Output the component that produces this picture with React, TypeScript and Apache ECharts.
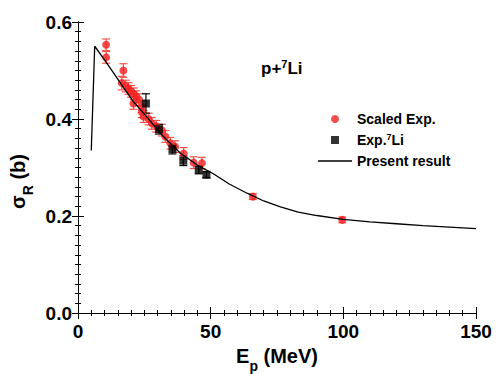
import React, { useEffect, useRef } from "react";
import * as echarts from "echarts";

const scaledE = [10.6, 10.6, 17.1, 16.5, 18.0, 19.0, 20.0, 21.0, 22.0, 20.9, 23.0, 24.0, 24.0, 24.7, 26.6, 27.8, 29.5, 31.6, 32.9, 34.8, 36.6, 39.8, 43.6, 46.7, 65.9, 99.6];
const scaledSigma = [0.553, 0.527, 0.500, 0.474, 0.468, 0.463, 0.457, 0.452, 0.446, 0.432, 0.440, 0.425, 0.415, 0.405, 0.400, 0.391, 0.385, 0.377, 0.364, 0.350, 0.343, 0.329, 0.310, 0.309, 0.240, 0.192];
const scaledErr = [0.012, 0.012, 0.014, 0.014, 0.012, 0.012, 0.012, 0.012, 0.012, 0.012, 0.012, 0.012, 0.012, 0.012, 0.012, 0.012, 0.012, 0.012, 0.012, 0.012, 0.012, 0.012, 0.012, 0.012, 0.006, 0.006];

const expE = [25.6, 30.5, 35.6, 39.7, 45.5, 48.4];
const expSigma = [0.432, 0.379, 0.338, 0.314, 0.295, 0.285];
const expErr = [0.020, 0.010, 0.010, 0.010, 0.008, 0.006];

const curveE = [5, 6.3, 10, 13, 17, 21, 26, 32, 38.5, 45, 51, 57, 63.7, 70, 76.3, 83, 90, 100, 110, 120, 130, 140, 150];
const curveSigma = [0.335, 0.550, 0.522, 0.498, 0.466, 0.435, 0.404, 0.365, 0.330, 0.305, 0.287, 0.266, 0.247, 0.231, 0.219, 0.208, 0.201, 0.193, 0.188, 0.184, 0.180, 0.177, 0.174];

const xTicks = [0, 50, 100, 150];
const yTicks = [0.0, 0.2, 0.4, 0.6];

const FONT = "Liberation Sans, Arial, sans-serif";
const RED = "#f22020";
const RED_BAR = "#f25448";

function errorSeries(name: string, xs: number[], ys: number[], es: number[], color: string, cap: number) {
  return {
    name: name + "-err",
    type: "custom",
    silent: true,
    z: 3,
    data: xs.map((x, i) => [x, ys[i] - es[i], ys[i] + es[i]]),
    renderItem: (params: any, api: any) => {
      const lo = api.coord([api.value(0), api.value(1)]);
      const hi = api.coord([api.value(0), api.value(2)]);
      const st = { stroke: color, lineWidth: 1.2 };
      return {
        type: "group",
        children: [
          { type: "line", shape: { x1: lo[0], y1: lo[1], x2: hi[0], y2: hi[1] }, style: st },
          { type: "line", shape: { x1: lo[0] - cap, y1: lo[1], x2: lo[0] + cap, y2: lo[1] }, style: st },
          { type: "line", shape: { x1: hi[0] - cap, y1: hi[1], x2: hi[0] + cap, y2: hi[1] }, style: st },
        ],
      };
    },
  };
}

const titleRich = {
  a: { fontSize: 20, fontWeight: "bold", fontFamily: FONT, color: "#000", lineHeight: 24 },
  s: { fontSize: 14, fontWeight: "bold", fontFamily: FONT, color: "#000", lineHeight: 14, verticalAlign: "bottom", padding: [0, 0, -5, 0] },
};

export default function App() {
  const ref = useRef<HTMLDivElement>(null);
  useEffect(() => {
    if (!ref.current) return;
    const chart = echarts.init(ref.current, undefined, { renderer: "svg" });
    const axisCommon = {
      axisLine: { show: true, lineStyle: { color: "#000", width: 1 } },
      axisTick: { show: true, inside: true, length: 6, lineStyle: { color: "#000" } },
      minorTick: { show: true, splitNumber: 10, length: 3, lineStyle: { color: "#000" } },
      splitLine: { show: false },
    };
    chart.setOption({
      animation: false,
      backgroundColor: "#fff",
      textStyle: { fontFamily: FONT },
      grid: { left: 78, right: 20, top: 22, bottom: 61, containLabel: false, outerBoundsMode: "none" },
      xAxis: [
        {
          type: "value",
          min: xTicks[0],
          max: xTicks[xTicks.length - 1],
          interval: 50,
          ...axisCommon,
          axisLabel: { color: "#000", fontSize: 19, fontWeight: "bold", fontFamily: FONT, margin: 9 },
          name: "{a|E}{s|p}{a| (MeV)}",
          nameLocation: "middle",
          nameGap: 31,
          nameTextStyle: { rich: titleRich },
        },
        {
          type: "value",
          position: "top",
          min: 0,
          max: 150,
          interval: 50,
          ...axisCommon,
          axisLabel: { show: false },
        },
      ],
      yAxis: [
        {
          type: "value",
          min: yTicks[0],
          max: yTicks[yTicks.length - 1],
          interval: 0.2,
          ...axisCommon,
          axisLabel: {
            color: "#000",
            fontSize: 19,
            fontWeight: "bold",
            fontFamily: FONT,
            margin: 6,
            formatter: (v: number) => v.toFixed(1),
          },
          name: "{a|σ}{s|R}{a| (b)}",
          nameLocation: "middle",
          nameGap: 40,
          nameTextStyle: { rich: titleRich, padding: [0, 28, 0, 0] },
        },
        {
          type: "value",
          position: "right",
          min: 0,
          max: 0.6,
          interval: 0.2,
          ...axisCommon,
          axisLabel: { show: false },
        },
      ],
      legend: {
        orient: "vertical",
        left: 313,
        top: 107,
        itemWidth: 34,
        itemHeight: 8,
        itemGap: 6,
        symbolKeepAspect: true,
        textStyle: {
          fontSize: 14,
          fontWeight: "bold",
          fontFamily: FONT,
          color: "#000",
          rich: {
            t: { fontSize: 14, fontWeight: "bold", fontFamily: FONT, color: "#000", lineHeight: 16 },
            sup: { fontSize: 9, fontWeight: "bold", fontFamily: FONT, color: "#000", verticalAlign: "top", lineHeight: 9, padding: [0, 0, 7, 0] },
          },
        },
        formatter: (name: string) => (name === "Exp.7Li" ? "{t|Exp.}{sup|7}{t|Li}" : "{t|" + name + "}"),
        data: [
          { name: "Scaled Exp.", icon: "circle" },
          { name: "Exp.7Li", icon: "path://M0,0H1V1H0Z" },
          { name: "Present result", icon: "path://M0,0H34V1.4H0Z" },
        ],
      },
      graphic: [
        {
          type: "text",
          left: 261,
          top: 58,
          style: {
            text: "{t|p+}{sup|7}{t|Li}",
            rich: {
              t: { fontSize: 17, fontWeight: "bold", fontFamily: FONT, fill: "#000", lineHeight: 20 },
              sup: { fontSize: 11, fontWeight: "bold", fontFamily: FONT, fill: "#000", verticalAlign: "top", lineHeight: 11, padding: [0, 0, 8, 0] },
            },
          },
        },
      ],
      series: [
        errorSeries("Scaled Exp.", scaledE, scaledSigma, scaledErr, RED_BAR, 4),
        errorSeries("Exp.7Li", expE, expSigma, expErr, "#000", 4),
        {
          name: "Scaled Exp.",
          type: "scatter",
          symbol: "circle",
          symbolSize: 8,
          z: 4,
          itemStyle: { color: RED },
          data: scaledE.map((x, i) => [x, scaledSigma[i]]),
        },
        {
          name: "Exp.7Li",
          type: "scatter",
          symbol: "rect",
          symbolSize: 8,
          z: 5,
          itemStyle: { color: "#000" },
          data: expE.map((x, i) => [x, expSigma[i]]),
        },
        {
          name: "Present result",
          type: "line",
          symbol: "none",
          smooth: false,
          z: 6,
          lineStyle: { color: "#000", width: 1.3 },
          itemStyle: { color: "#000" },
          data: curveE.map((x, i) => [x, curveSigma[i]]),
        },
      ],
    });
    return () => chart.dispose();
  }, []);
  return <div ref={ref} style={{ width: 496, height: 374, position: "absolute", left: 0, top: 0 }} />;
}
